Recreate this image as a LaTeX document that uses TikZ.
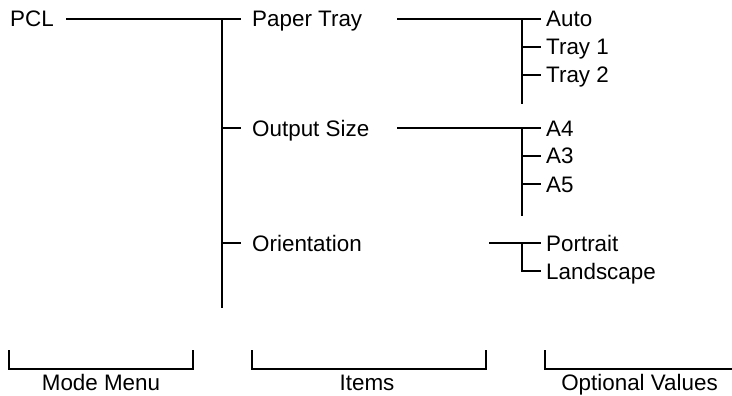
\documentclass[tikz,border=0pt]{standalone}
\usepackage{fontspec}
\setmainfont{Liberation Sans}
\begin{document}
\begin{tikzpicture}[x=1pt,y=-1pt,
  lbl/.style={anchor=base west,inner sep=0pt,font=\fontsize{22.4}{25}\selectfont},
  caplbl/.style={anchor=base,inner sep=0pt,font=\fontsize{22.4}{25}\selectfont},
  ln/.style={line width=2pt}]
\useasboundingbox (0,0) rectangle (732,396);
% texts
\node[lbl] (pcl) at (10,27) {PCL};
\node[lbl] (pt) at (252,27) {Paper Tray};
\node[lbl] (os) at (252,136) {Output Size};
\node[lbl] (or) at (252,251) {Orientation};
\node[lbl] (auto) at (546,27) {Auto};
\node[lbl] (t1) at (546,55) {Tray 1};
\node[lbl] (t2) at (546,83) {Tray 2};
\node[lbl] (a4) at (546,136) {A4};
\node[lbl] (a3) at (546,164) {A3};
\node[lbl] (a5) at (546,192) {A5};
\node[lbl] (po) at (546,251) {Portrait};
\node[lbl] (la) at (546,279) {Landscape};
% coordinates
\coordinate (pclE) at (66,19);
\coordinate (mvT) at (222,19);
\coordinate (mvB) at (222,308);
\coordinate (ptE) at (397,19);
\coordinate (v1T) at (522,19);
\coordinate (v1B) at (522,104);
\coordinate (osE) at (397,128);
\coordinate (v2T) at (522,128);
\coordinate (v2B) at (522,216);
\coordinate (orE) at (489,243);
\coordinate (v3T) at (522,243);
\coordinate (v3B) at (522,271);
% main tree
\draw[ln] (pclE) -- (241,19);
\draw[ln] (mvT) -- (mvB);
\draw[ln] (222,128) -- (241,128);
\draw[ln] (222,243) -- (241,243);
% paper tray
\draw[ln] (ptE) -- (541,19);
\draw[ln] (v1T) -- (v1B);
\draw[ln] (522,47) -- (541,47);
\draw[ln] (522,75) -- (541,75);
% output size
\draw[ln] (osE) -- (541,128);
\draw[ln] (v2T) -- (v2B);
\draw[ln] (522,156) -- (541,156);
\draw[ln] (522,184) -- (541,184);
% orientation
\draw[ln] (orE) -- (541,243);
\draw[ln] (v3T) -- (v3B) -- (541,271);
% brackets
\draw[ln] (9,350) -- (9,369) -- (193,369) -- (193,350);
\draw[ln] (252,350) -- (252,369) -- (486,369) -- (486,350);
\draw[ln] (545,350) -- (545,369) -- (732,369);
\node[caplbl] (mm) at (101,390) {Mode Menu};
\node[caplbl] (it) at (367,390) {Items};
\node[caplbl] (ov) at (639.5,390) {Optional Values};
\end{tikzpicture}
\end{document}
